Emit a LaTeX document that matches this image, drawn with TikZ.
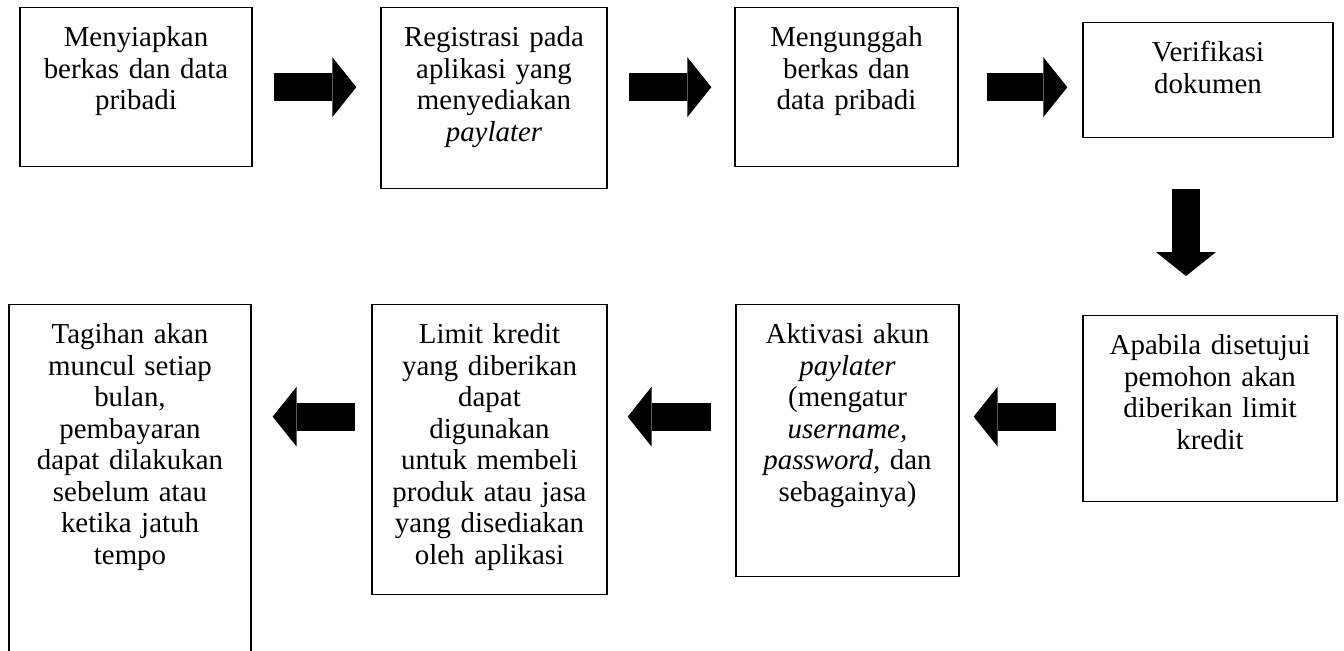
\documentclass[tikz,border=0pt]{standalone}
\usepackage{fontspec}
\setmainfont{Liberation Serif}
\usepackage{tikz}
\usetikzlibrary{arrows.meta,calc}
\tikzset{stepbox/.style={draw, line width=0.6pt, anchor=north, align=center,
    inner sep=0pt, text height=17.5pt, font=\fontsize{13}{14.2}\selectfont}}
\tikzset{fatarrow/.style={line width=12.6pt,
    -{Triangle[length=10.8pt, width=27pt, line width=0pt]}}}

\begin{document}
\begin{tikzpicture}[x=0.45pt, y=-0.45pt]
    \useasboundingbox (0, 0) rectangle (1344, 650);
    \node[stepbox, text width=104.4pt, text depth=54.05pt] (s1) at (136, 7)
        {Menyiapkan\\ berkas dan data\\ pribadi};
    \node[stepbox, text width=101.7pt, text depth=63.95pt] (s2) at (494, 7)
        {Registrasi pada\\ aplikasi yang\\ menyediakan\\ \textit{paylater}};
    \node[stepbox, text width=100.35pt, text depth=54.05pt] (s3) at (846.5, 7)
        {Mengunggah\\ berkas dan\\ data pribadi};
    \node[stepbox, text width=112.5pt, text depth=34.25pt] (s4) at (1208, 22)
        {Verifikasi\\ dokumen};
    \node[stepbox, text width=114.3pt, text depth=66.2pt] (s5) at (1210, 315)
        {Apabila disetujui\\ pemohon akan\\ diberikan limit\\ kredit};
    \node[stepbox, text width=100.35pt, text depth=104.9pt] (s6) at (847.5, 304)
        {Aktivasi akun\\ \textit{paylater}\\ (mengatur\\ \textit{username,}\\ \textit{password,} dan\\ sebagainya)};
    \node[stepbox, text width=105.75pt, text depth=113pt] (s7) at (489.5, 304)
        {Limit kredit\\ yang diberikan\\ dapat\\ digunakan\\ untuk membeli\\ produk atau jasa\\ yang disediakan\\ oleh aplikasi};
    \node[stepbox, text width=108.9pt, text depth=151.7pt] (s8) at (130, 304)
        {Tagihan akan\\ muncul setiap\\ bulan,\\ pembayaran\\ dapat dilakukan\\ sebelum atau\\ ketika jatuh\\ tempo};
    \coordinate (row2) at ([yshift=-3.6pt]s5.west);
    \draw[fatarrow, shorten <=9.45pt, shorten >=10.8pt] (s1.east) -- (s1.east -| s2.west);
    \draw[fatarrow, shorten <=9.45pt, shorten >=10.35pt] (s3.west -| s2.east) -- (s3.west);
    \draw[fatarrow, shorten <=12.6pt, shorten >=6.75pt] (s3.east) -- (s3.east -| s4.west);
    \draw[fatarrow, shorten <=22.95pt, shorten >=17.55pt] ([xshift=-9.9pt]s4.south) -- ([xshift=-9.9pt]s4.south |- s5.north);
    \draw[fatarrow, shorten <=11.7pt, shorten >=6.3pt] (row2) -- (row2 -| s6.east);
    \draw[fatarrow, shorten <=10.8pt, shorten >=9pt] (row2 -| s6.west) -- (row2 -| s7.east);
    \draw[fatarrow, shorten <=7.2pt, shorten >=9.45pt] (row2 -| s7.west) -- (row2 -| s8.east);
\end{tikzpicture}
\end{document}
